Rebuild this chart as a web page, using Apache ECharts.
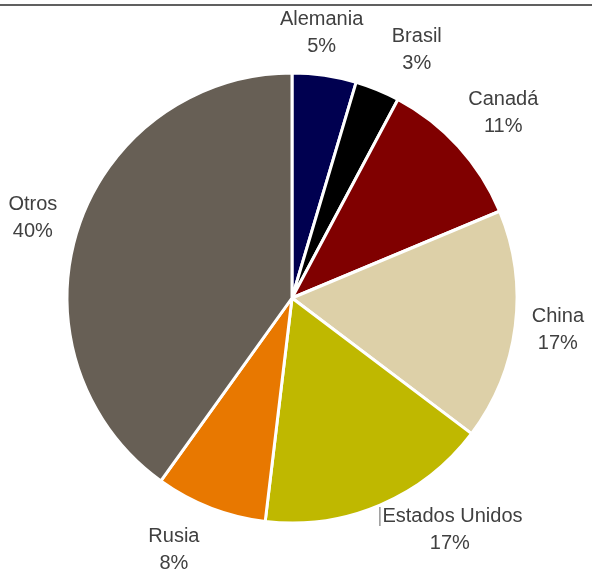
<!DOCTYPE html>
<html>
<head>
<meta charset="utf-8">
<script src="https://cdn.jsdelivr.net/npm/echarts@6/dist/echarts.min.js"></script>
<style>
  html, body { margin: 0; padding: 0; background: #ffffff; }
  #chart { width: 592px; height: 572px; }
</style>
</head>
<body>
<div id="chart"></div>
<script>
// ---- data ----
const categories = ['Alemania', 'Brasil', 'Canadá', 'China', 'Estados Unidos', 'Rusia', 'Otros'];
const shares = [4.6, 3.2, 10.9, 16.6, 16.6, 8.0, 40.1];

// ---- styles ----
const colors = ['#000050', '#000000', '#800000', '#DDD0A8', '#BFB800', '#E87800', '#675F55'];
const CX = 292, CY = 298, R = 225, LABEL_R = 268;
const labelNudge = {
  'Alemania': [-9, 0], 'Brasil': [23, 0], 'Canadá': [13, -5], 'China': [0, -2],
  'Estados Unidos': [53, -15], 'Rusia': [-21, 2], 'Otros': [-4, 2]
};

const total = shares.reduce((a, b) => a + b, 0);
const midAngles = [];
let acc = 0;
shares.forEach(v => { midAngles.push((acc + v / 2) / total * 2 * Math.PI); acc += v; });

const chart = echarts.init(document.getElementById('chart'), null, { renderer: 'canvas' });
chart.setOption({
  animation: false,
  backgroundColor: '#ffffff',
  graphic: [{
    type: 'line', shape: { x1: 0, y1: 5, x2: 592, y2: 5 },
    style: { stroke: '#606060', lineWidth: 2 }
  }],
  series: [{
    type: 'pie',
    center: [CX, CY],
    radius: [0, R],
    startAngle: 90,
    clockwise: true,
    data: categories.map((n, i) => ({ name: n, value: shares[i], itemStyle: { color: colors[i] } })),
    itemStyle: { borderColor: '#ffffff', borderWidth: 3 },
    label: {
      show: true,
      position: 'outside',
      fontFamily: '"Liberation Sans Narrow", "Arial Narrow", "Liberation Sans", Arial, sans-serif',
      fontSize: 20,
      lineHeight: 27,
      color: '#404040',
      formatter: p => {
        const pct = Math.round(p.value / total * 100);
        const pre = p.name === 'Estados Unidos' ? '{bar||}' : '';
        return pre + p.name + '\n' + pct + '%';
      },
      rich: { bar: { color: '#a0a0a0', fontSize: 20, fontFamily: '"Liberation Sans", sans-serif' } }
    },
    labelLine: { show: false, length: 10, length2: 0 },
    labelLayout: params => {
      const i = params.dataIndex;
      const a = midAngles[i];
      const nd = labelNudge[categories[i]] || [0, 0];
      return {
        x: CX + LABEL_R * Math.sin(a) + nd[0],
        y: CY - LABEL_R * Math.cos(a) + nd[1],
        align: 'center',
        verticalAlign: 'middle'
      };
    },
    emphasis: { disabled: true }
  }]
});
</script>
</body>
</html>
